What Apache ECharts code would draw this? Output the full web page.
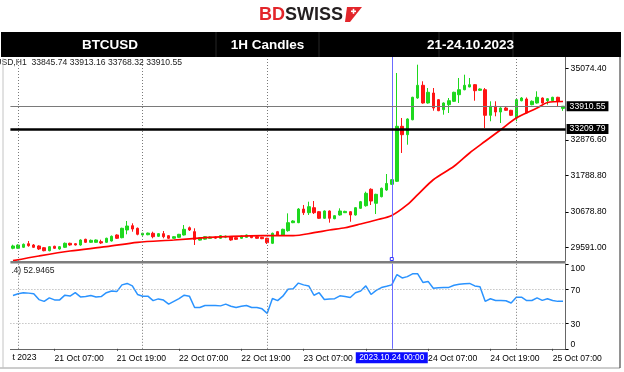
<!DOCTYPE html>
<html><head><meta charset="utf-8">
<script src="https://cdn.jsdelivr.net/npm/echarts@6/dist/echarts.min.js"></script>
<style>html,body{margin:0;padding:0;background:#fff}#c{width:624px;height:372px}</style>
</head><body><div id="c"></div>
<script>
// ---------- DATA ----------
const firstCandle = '2023-10-20T23:00:00Z';
const candleCount = 107;
const opens  = [29560,29560,29590,29700,29661,29630,29578,29486,29621,29538,29590,29713,29700,29661,29835,29743,29743,29762,29743,29783,
  29967,29884,30120,30252,30172,29967,29975,30019,29927,30007,29946,29866,29896,29967,30190,30070,29810,29840,29865,29905,
  29866,29900,29915,29884,29866,29895,29946,29915,29896,29866,29713,30068,29967,30099,30344,30344,30763,30650,30803,30680,
  30478,30702,30466,30580,30650,30680,30580,30784,30864,31367,30938,31140,31345,31520,31612,33296,33039,33498,34163,34552,
  34010,34316,34111,33805,33958,34062,34264,34417,34501,34571,34399,34417,33633,33909,33734,33857,33786,33550,34080,34132,
  33958,34010,34163,34080,34080,34185,33845.74];
const closes = [29630,29660,29682,29639,29590,29538,29486,29608,29559,29608,29713,29661,29661,29814,29743,29804,29814,29722,29866,29927,
  29866,30172,30242,30150,29988,30019,30025,29915,30007,29915,29866,29915,29988,30141,30120,29830,29880,29915,29905,29870,
  29946,29930,29814,29835,29937,29967,29884,29866,29853,29731,30019,29967,30141,30344,30396,30763,30650,30834,30650,30478,
  30702,30478,30558,30702,30690,30580,30803,30987,31244,31008,31213,31397,31545,31660,33296,33039,33520,34185,34552,34010,
  34338,33857,33774,34010,34080,34338,34417,34552,34571,34387,34439,33633,33909,33734,33857,33786,33633,34111,34163,33704,
  34062,34185,34010,34140,34185,34062,33910.55];
const lows   = [29530,29547,29568,29608,29568,29507,29467,29467,29538,29516,29568,29639,29645,29639,29722,29725,29728,29691,29725,29768,
  29844,29866,29988,30068,29958,29950,29960,29866,29905,29866,29844,29850,29880,29950,30089,29661,29795,29825,29850,29850,
  29850,29870,29790,29815,29850,29880,29870,29850,29840,29691,29690,29950,29950,30068,30330,30330,30580,30580,30610,30460,
  30460,30344,30450,30560,30640,30374,30560,30770,30834,30886,30610,31120,31320,31500,31590,32479,32733,33480,34140,33990,
  33990,33774,33760,33652,33704,34040,34010,34400,34490,34080,34380,33244,33450,33603,33397,33770,33610,33450,34060,33690,
  33940,33990,33990,33960,34060,33909,33768.32];
const highs  = [29670,29682,29707,29783,29691,29651,29599,29630,29639,29630,29737,29731,29716,29835,29853,29829,29830,29823,29884,29951,
  29988,30190,30396,30325,30196,30035,30040,30068,30020,30089,29960,29930,30000,30273,30227,30172,29895,29935,29925,29920,
  29960,29950,29930,29900,29950,29980,29960,29930,29910,29880,30040,30090,30160,30630,30420,30790,30886,30987,31008,30700,
  30720,30720,30570,30784,30710,30700,30820,31010,31293,31397,31230,31420,31835,31680,34929,33550,33540,34200,35183,34675,
  34469,34469,34130,34030,34163,34355,34776,34877,34776,34590,34460,34469,34062,34062,33880,33900,33800,34130,34190,34180,
  34090,34368,34180,34160,34200,34200,33913.16];
// moving average, read at selected candles
const maIndex  = [0,5,11,18,24,31,37,41,48,54,58,61,64,67,70,73,76,78,81,85,88,91,94,97,101,103,106];
const maValues = [29180,29324,29477,29609,29743,29814,29884,29915,29946,29946,30037,30120,30190,30304,30426,30564,30895,31201,31660,32071,32479,32837,33192,33550,33857,34025,34056];
// oscillator (0-100)
const rsiValues = [62.7,64.8,66,65.5,64.8,57.9,55.8,59.9,57.5,57.5,63.1,62,66,61,61.5,62.7,61,61.5,66,68,
  67.3,75.2,76.9,74,63.9,61.9,61.9,56.7,58.7,57.3,52.6,55.8,59,63.1,61.9,48.6,48.6,51,51,51,
  50.5,52.6,50,48.5,50,51,48.6,48.6,47,41.7,59.1,56.7,61.9,70,70.7,77.3,75.2,74,63,66,
  58,58.5,59,62.3,61.5,60.4,66,68,74,63.9,68.8,72,73.5,75.2,87.4,83.3,84.9,88.2,88.2,78.1,
  79.3,71.2,71.8,72,72.2,74.8,76,76.5,76.9,74,73.1,55.8,58.9,56.8,56.8,56.5,53.9,60.7,60.7,56.8,
  56.8,59.9,57,58.9,56.8,55.8,56];
const priceTicks = [35074.40, 32876.60, 31788.80, 30678.80, 29591.00];
const rsiTicks = [0, 30, 70, 100];
const rsiLevels = [30, 70];
const lastPrice = 33910.55;
const levelPrice = 33209.79;
const markedCandle = 73;
const ohlcText = 'BTCUSD,H1  33845.74 33913.16 33768.32 33910.55';
const rsiText = 'RSI(14) 52.9465';
const firstDateLabel = '20 Oct 2023';
const headerTexts = ['BTCUSD', '1H Candles', '21-24.10.2023'];

// ---------- BUILD ----------
const pad = n => String(n).padStart(2, '0');
const categories = [];
const t0 = new Date(firstCandle).getTime();
for (let i = 0; i < candleCount; i++) {
  const d = new Date(t0 + i * 3600000);
  categories.push(`${d.getUTCFullYear()}.${pad(d.getUTCMonth() + 1)}.${pad(d.getUTCDate())} ${pad(d.getUTCHours())}:00`);
}
const candleData = opens.map((o, i) => [o, closes[i], lows[i], highs[i]]);
const maData = categories.map(() => null);
maIndex.forEach((k, j) => { maData[k] = maValues[j]; });
const dayIdx = categories.map((c, i) => c.slice(11, 13) === '00' ? i : -1).filter(i => i >= 0);

const FONT = 'Liberation Sans';
const yMax = 35418.9, yMin = 29170.4;
const dotted = { color: '#7a7a7a', width: 1, type: [1, 2] };

const chart = echarts.init(document.getElementById('c'), null, { renderer: 'canvas' });
const option = {
  animation: false,
  backgroundColor: '#fff',
  grid: [
    { left: 10.4, right: 58.4, top: 57, height: 204, outerBoundsMode: 'none' },
    { left: 10.4, right: 58.4, top: 263.8, height: 85, outerBoundsMode: 'none' }
  ],
  xAxis: [
    { type: 'category', gridIndex: 0, data: categories, boundaryGap: true,
      axisLine: { show: false }, axisTick: { show: false }, axisLabel: { show: false }, splitLine: { show: false } },
    { type: 'category', gridIndex: 1, data: categories, boundaryGap: true,
      axisLine: { show: true, lineStyle: { color: '#666', width: 1 } },
      axisTick: { show: true, alignWithLabel: true, length: 2, lineStyle: { color: '#444' },
        interval: (i, v) => v.slice(11, 13) === '07' || v.slice(11, 13) === '19' },
      axisLabel: { show: true, align: 'left', margin: 5, color: '#000', fontFamily: FONT, fontSize: 8.6,
        interval: (i, v) => v.slice(11, 13) === '07' || v.slice(11, 13) === '19',
        formatter: v => `${parseInt(v.slice(8, 10), 10)} Oct ${v.slice(11, 16)}` },
      splitLine: { show: false } }
  ],
  yAxis: [
    { type: 'value', gridIndex: 0, position: 'right', min: yMin, max: yMax, scale: true,
      axisLine: { show: true, lineStyle: { color: '#666' } },
      axisTick: { show: true, length: 3, lineStyle: { color: '#000' }, customValues: priceTicks },
      axisLabel: { show: true, margin: 5, color: '#000', fontFamily: FONT, fontSize: 8.6,
        customValues: priceTicks, formatter: v => v.toFixed(2) },
      splitLine: { show: false } },
    { type: 'value', gridIndex: 1, position: 'right', min: 0, max: 100,
      axisLine: { show: true, lineStyle: { color: '#666' } },
      axisTick: { show: true, length: 3, lineStyle: { color: '#000' }, customValues: rsiTicks },
      axisLabel: { show: true, margin: 5, color: '#000', fontFamily: FONT, fontSize: 8.6,
        customValues: rsiTicks,
        formatter: v => v === 100 ? '{a|100}' : (v === 0 ? '{b|0}' : '{c|' + v + '}'),
        rich: { a: { padding: [10, 0, 0, 0], fontSize: 8.6, fontFamily: FONT },
                b: { padding: [0, 0, 9, 0], fontSize: 8.6, fontFamily: FONT },
                c: { padding: [2, 0, 0, 0], fontSize: 8.6, fontFamily: FONT } } },
      splitLine: { show: false } }
  ],
  series: [
    { type: 'candlestick', name: 'BTCUSD', xAxisIndex: 0, yAxisIndex: 0, data: candleData, barWidth: 3,
      itemStyle: { color: '#1ed81e', color0: '#ff1414', borderColor: '#1ed81e', borderColor0: '#ff1414', borderWidth: 1 },
      markLine: { silent: true, symbol: 'none', animation: false,
        label: { show: false },
        data: [
          ...dayIdx.filter(i => i !== markedCandle).map(i => ({ xAxis: categories[i], lineStyle: dotted })),
          { xAxis: categories[markedCandle], lineStyle: { color: '#6b6bff', width: 1, type: 'solid' } },
          { yAxis: lastPrice, lineStyle: { color: '#7a7a7a', width: 1.2, type: 'solid' },
            label: { show: true, position: 'end', distance: 1, formatter: p => Number(p.value).toFixed(2),
              backgroundColor: '#000', color: '#fff', fontFamily: FONT, fontSize: 8.6, padding: [1, 3, 0, 3], lineHeight: 9 } },
          { yAxis: levelPrice, lineStyle: { color: '#000', width: 2.5, type: 'solid' },
            label: { show: true, position: 'end', distance: 1, formatter: p => Number(p.value).toFixed(2),
              backgroundColor: '#000', color: '#fff', fontFamily: FONT, fontSize: 8.6, padding: [1, 3, 0, 3], lineHeight: 9 } }
        ] } },
    { type: 'line', name: 'MA', xAxisIndex: 0, yAxisIndex: 0, data: maData, connectNulls: true, smooth: 0.3,
      showSymbol: false, symbol: 'none', lineStyle: { color: '#ff0000', width: 1.7 }, z: 3 },
    { type: 'line', name: 'RSI', xAxisIndex: 1, yAxisIndex: 1, data: rsiValues, showSymbol: false, symbol: 'none',
      lineStyle: { color: '#2a93ff', width: 1.5 },
      markLine: { silent: true, symbol: 'none', animation: false, label: { show: false },
        data: [
          ...rsiLevels.map(v => ({ yAxis: v, lineStyle: { color: '#a8a8a8', width: 1, type: [1, 2] } })),
          ...dayIdx.filter(i => i !== markedCandle).map(i => ({ xAxis: categories[i], lineStyle: dotted })),
          { xAxis: categories[markedCandle], lineStyle: { color: '#6b6bff', width: 1, type: 'solid' } }
        ] } }
  ]
};
chart.setOption(option);

const xMark = chart.convertToPixel({ xAxisIndex: 1 }, categories[markedCandle]);
const yMainBottom = chart.convertToPixel({ yAxisIndex: 0 }, yMin);
const yRsiBottom = chart.convertToPixel({ yAxisIndex: 1 }, 0);
const xLeft = chart.convertToPixel({ xAxisIndex: 0 }, categories[0]) - 2.6;
const xRight = chart.convertToPixel({ xAxisIndex: 0 }, categories[candleCount - 1]) + 2.6;

chart.setOption({ graphic: [
  // logo
  { type: 'text', z: 50, style: { text: 'BD', x: 259, y: 15, fill: '#e3262b', font: 'bold 18px "Liberation Sans"', textAlign: 'left', textVerticalAlign: 'middle' } },
  { type: 'text', z: 50, style: { text: 'SWISS', x: 285, y: 15, fill: '#231f20', font: 'bold 18px "Liberation Sans"', textAlign: 'left', textVerticalAlign: 'middle' } },
  { type: 'polygon', z: 50, shape: { points: [[347, 7], [362, 7], [350, 22], [345, 22]] }, style: { fill: '#e3262b' } },
  { type: 'rect', z: 51, shape: { x: 351, y: 10.5, width: 5, height: 1.6 }, style: { fill: '#fff' } },
  { type: 'rect', z: 51, shape: { x: 352.7, y: 8.8, width: 1.6, height: 5 }, style: { fill: '#fff' } },
  // header bar
  { type: 'rect', z: 50, shape: { x: 1, y: 32, width: 620, height: 25 }, style: { fill: '#000' } },
  ...[216, 319, 439, 513].map(x => ({ type: 'line', z: 51, shape: { x1: x, y1: 32, x2: x, y2: 57 }, style: { stroke: '#262626', lineWidth: 1 } })),
  { type: 'text', z: 52, style: { text: headerTexts[0], x: 110, y: 45, fill: '#fff', font: 'bold 13.5px "Liberation Sans"', textAlign: 'center', textVerticalAlign: 'middle' } },
  { type: 'text', z: 52, style: { text: headerTexts[1], x: 267.5, y: 45, fill: '#fff', font: 'bold 13.5px "Liberation Sans"', textAlign: 'center', textVerticalAlign: 'middle' } },
  { type: 'text', z: 52, style: { text: headerTexts[2], x: 470.5, y: 45, fill: '#fff', font: 'bold 13.5px "Liberation Sans"', textAlign: 'center', textVerticalAlign: 'middle' } },
  // info texts (left part cut off as in the source screenshot)
  { type: 'text', z: 40, style: { text: ohlcText, x: -22, y: 62.5, fill: '#222', font: '8.6px "Liberation Sans"', textAlign: 'left', textVerticalAlign: 'middle' } },
  { type: 'text', z: 40, style: { text: rsiText, x: -8.5, y: 270.5, fill: '#222', font: '8.6px "Liberation Sans"', textAlign: 'left', textVerticalAlign: 'middle' } },
  { type: 'text', z: 40, style: { text: firstDateLabel, x: -10.4, y: 358, fill: '#000', font: '8.6px "Liberation Sans"', textAlign: 'left', textVerticalAlign: 'middle' } },
  { type: 'rect', z: 45, shape: { x: 0, y: 264.5, width: 12, height: 12 }, style: { fill: '#fff' } },
  { type: 'rect', z: 45, shape: { x: 0, y: 351, width: 12, height: 14 }, style: { fill: '#fff' } },
  // panel separator
  { type: 'line', z: 30, shape: { x1: xLeft, y1: yMainBottom + 1.2, x2: xRight, y2: yMainBottom + 1.2 }, style: { stroke: '#7d7d7d', lineWidth: 2.4 } },
  // marker square and date box
  { type: 'rect', z: 60, shape: { x: xMark - 1.5, y: yMainBottom - 3.5, width: 3, height: 3 }, style: { fill: '#fff', stroke: '#3333ff', lineWidth: 1 } },
  { type: 'rect', z: 60, shape: { x: xMark - 36, y: yRsiBottom + 3.5, width: 72, height: 11 }, style: { fill: '#0d0dff' } },
  { type: 'text', z: 61, style: { text: categories[markedCandle], x: xMark, y: yRsiBottom + 9.2, fill: '#fff', font: '8.4px "Liberation Sans"', textAlign: 'center', textVerticalAlign: 'middle' } },
  // frame
  { type: 'line', z: 20, shape: { x1: 0, y1: 368, x2: 620, y2: 368 }, style: { stroke: '#9a9a9a', lineWidth: 1 } },
  { type: 'line', z: 20, shape: { x1: 620, y1: 57, x2: 620, y2: 368 }, style: { stroke: '#4a4a4a', lineWidth: 1.2 } },
  { type: 'line', z: 50, shape: { x1: 3, y1: 58, x2: 3, y2: 368 }, style: { stroke: '#c4c4c4', lineWidth: 1 } }
] });
</script>
</body></html>
